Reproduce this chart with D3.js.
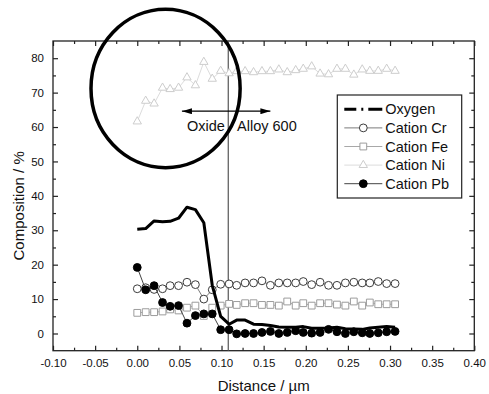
<!DOCTYPE html>
<html>
<head>
<meta charset="utf-8">
<script src="https://d3js.org/d3.v7.min.js"></script>
<style>
body { margin: 0; background: #fff; }
svg { display: block; font-family: "Liberation Sans", Arial, sans-serif; }
</style>
</head>
<body>
<svg width="489" height="394"></svg>
<script>
// расстояние, мкм
const distance = [0.000, 0.010, 0.020, 0.030, 0.039, 0.049, 0.059, 0.069, 0.079, 0.089, 0.099,
                  0.109, 0.118, 0.128, 0.138, 0.148, 0.158, 0.168, 0.178, 0.188, 0.197, 0.207,
                  0.217, 0.227, 0.237, 0.247, 0.257, 0.267, 0.276, 0.286, 0.296, 0.306];
const oxygen = [30.3, 30.5, 32.7, 32.5, 32.6, 33.5, 36.7, 36.0, 32.2, 14.0, 5.0,
                2.7, 3.9, 3.9, 2.7, 2.6, 2.3, 1.9, 1.8, 1.8, 2.0, 1.5,
                1.5, 1.6, 1.8, 1.4, 1.3, 1.2, 1.6, 1.8, 2.0, 1.8];
const cationCr = [13.0, 13.3, 12.8, 13.0, 13.9, 13.9, 14.9, 14.2, 10.0, 12.7, 14.3,
                  14.4, 14.0, 14.7, 14.7, 15.3, 14.0, 14.7, 14.7, 14.7, 15.1, 14.2,
                  14.9, 14.0, 14.0, 14.7, 14.9, 14.7, 14.7, 15.1, 14.5, 14.5];
const cationFe = [6.0, 6.2, 6.2, 6.4, 7.0, 6.7, 7.5, 8.1, 5.1, 7.5, 8.1,
                  8.6, 8.3, 8.8, 8.8, 8.3, 8.3, 8.1, 9.3, 8.1, 8.8, 8.1,
                  8.8, 8.8, 8.4, 8.1, 9.3, 8.1, 9.0, 8.5, 8.5, 8.5];
const cationNi = [61.6, 67.6, 66.8, 71.4, 71.0, 71.4, 74.4, 72.1, 78.9, 74.0, 76.3,
                  75.6, 76.2, 76.2, 75.9, 76.2, 76.2, 76.7, 75.9, 76.5, 76.9, 77.6,
                  75.5, 75.3, 76.9, 76.9, 75.2, 76.7, 76.3, 76.3, 76.9, 76.3];
const cationPb = [19.2, 12.7, 13.9, 9.0, 7.9, 8.1, 3.0, 5.2, 5.7, 5.7, 1.1,
                  1.1, -0.1, 0.0, 0.0, 0.3, 0.6, 0.0, 0.3, 0.8, 0.3, 0.1,
                  0.3, 1.2, 0.5, 0.0, 0.5, 0.2, 0.0, 0.2, 0.5, 0.6];

const xTicks = [-0.10, -0.05, 0.00, 0.05, 0.10, 0.15, 0.20, 0.25, 0.30, 0.35, 0.40];
const xMinor = [-0.075, -0.025, 0.025, 0.075, 0.125, 0.175, 0.225, 0.275, 0.325, 0.375];
const yTicks = [0, 10, 20, 30, 40, 50, 60, 70, 80];
const yMinor = [5, 15, 25, 35, 45, 55, 65, 75];

const legendNames = ["Oxygen", "Cation Cr", "Cation Fe", "Cation Ni", "Cation Pb"];
const boundaryX = 0.108;   // граница оксид / сплав

let svg = d3.select("svg");
const area = {left: 53, right: 474.3, top: 41, bottom: 350.7};

const scX = d3.scaleLinear().domain([-0.10, 0.40]).range([area.left, area.right]);
const scY = d3.scaleLinear().domain([-5, 85]).range([area.bottom, area.top]);

// оси: тики внутрь, на всех четырёх сторонах
function drawAxis(axis, tr) {
    let g = svg.append("g")
        .attr("transform", tr)
        .style("color", "#222")
        .call(axis);
    g.select(".domain").remove();
    g.selectAll("line").attr("stroke-width", 1.2);
    return g;
}
const fmt = d => d.toFixed(2);

drawAxis(d3.axisBottom(scX).tickValues(xTicks).tickSize(-5).tickPadding(8).tickFormat(fmt),
         `translate(0,${area.bottom})`)
    .selectAll("text").style("font-size", "11.5px").style("fill", "#111");
drawAxis(d3.axisBottom(scX).tickValues(xMinor).tickSize(-3).tickFormat(""), `translate(0,${area.bottom})`);
drawAxis(d3.axisTop(scX).tickValues(xTicks).tickSize(-5).tickFormat(""), `translate(0,${area.top})`);
drawAxis(d3.axisTop(scX).tickValues(xMinor).tickSize(-3).tickFormat(""), `translate(0,${area.top})`);

drawAxis(d3.axisLeft(scY).tickValues(yTicks).tickSize(-5).tickPadding(9).tickFormat(d => d),
         `translate(${area.left},0)`)
    .selectAll("text").style("font-size", "11.5px").style("fill", "#111");
drawAxis(d3.axisLeft(scY).tickValues(yMinor).tickSize(-3).tickFormat(""), `translate(${area.left},0)`);
drawAxis(d3.axisRight(scY).tickValues(yTicks).tickSize(-5).tickFormat(""), `translate(${area.right},0)`);
drawAxis(d3.axisRight(scY).tickValues(yMinor).tickSize(-3).tickFormat(""), `translate(${area.right},0)`);

svg.append("rect")
    .attr("x", area.left).attr("y", area.top)
    .attr("width", area.right - area.left).attr("height", area.bottom - area.top)
    .attr("fill", "none").attr("stroke", "#222").attr("stroke-width", 1.3);

// подписи осей
svg.append("text")
    .attr("x", scX(0.15)).attr("y", 390.5)
    .attr("text-anchor", "middle").style("font-size", "15px").style("fill", "#111")
    .text("Distance / µm");
svg.append("text")
    .attr("transform", `translate(23.5,${(area.top + area.bottom) / 2 + 10}) rotate(-90)`)
    .attr("text-anchor", "middle").style("font-size", "15px").style("fill", "#111")
    .text("Composition / %");

// вертикальная линия границы
svg.append("line")
    .attr("x1", scX(boundaryX)).attr("x2", scX(boundaryX))
    .attr("y1", area.top).attr("y2", area.bottom)
    .attr("stroke", "#555").attr("stroke-width", 1.2);

// серии
const series = [
    {name: "Cation Cr", values: cationCr, line: "#7a7a7a", marker: "circle", stroke: "#3c3c3c", fill: "#fff"},
    {name: "Cation Fe", values: cationFe, line: "#a8a8a8", marker: "square", stroke: "#9c9c9c", fill: "#fff"},
    {name: "Cation Ni", values: cationNi, line: "#dcdcdc", marker: "triangle", stroke: "#cdcdcd", fill: "#fff"},
    {name: "Cation Pb", values: cationPb, line: "#444", marker: "circle", stroke: "#000", fill: "#000"}
];
const symbols = {circle: d3.symbolCircle, square: d3.symbolSquare, triangle: d3.symbolTriangle};
const sizes = {circle: 48, square: 46, triangle: 30};

const line = d3.line().x(d => scX(d[0])).y(d => scY(d[1]));

series.forEach(s => {
    const pts = distance.map((x, i) => [x, s.values[i]]);
    svg.append("path").datum(pts)
        .attr("d", line).attr("fill", "none")
        .attr("stroke", s.line).attr("stroke-width", 1);
    svg.selectAll(null).data(pts).enter()
        .append("path")
        .attr("d", d3.symbol(symbols[s.marker], sizes[s.marker])())
        .attr("transform", d => `translate(${scX(d[0])},${scY(d[1])})`)
        .attr("fill", s.fill).attr("stroke", s.stroke).attr("stroke-width", 1);
});

svg.append("path")
    .datum(distance.map((x, i) => [x, oxygen[i]]))
    .attr("d", line).attr("fill", "none")
    .attr("stroke", "#000").attr("stroke-width", 3).attr("stroke-linejoin", "round");

// стрелка и подписи
const defs = svg.append("defs");
defs.append("marker").attr("id", "ah")
    .attr("viewBox", "0 0 10 6").attr("refX", 10).attr("refY", 3)
    .attr("markerWidth", 10).attr("markerHeight", 6).attr("markerUnits", "userSpaceOnUse")
    .attr("orient", "auto-start-reverse")
    .append("path").attr("d", "M0,0 L10,3 L0,6 Z").attr("fill", "#000");

svg.append("line")
    .attr("x1", scX(0.053)).attr("x2", scX(0.158))
    .attr("y1", scY(64.6)).attr("y2", scY(64.6))
    .attr("stroke", "#000").attr("stroke-width", 1.3)
    .attr("marker-start", "url(#ah)").attr("marker-end", "url(#ah)");

svg.append("text")
    .attr("x", scX(0.104)).attr("y", scY(58.8))
    .attr("text-anchor", "end").style("font-size", "14.5px").style("fill", "#111")
    .text("Oxide");
svg.append("text")
    .attr("x", scX(0.1185)).attr("y", scY(58.8))
    .style("font-size", "14.5px").style("fill", "#111")
    .text("Alloy 600");

// овал
svg.append("ellipse")
    .attr("cx", scX(0.0336)).attr("cy", scY(71.2))
    .attr("rx", scX(0.0336 + 0.0885) - scX(0.0336))
    .attr("ry", scY(71.2) - scY(71.2 + 23))
    .attr("fill", "none").attr("stroke", "#000").attr("stroke-width", 3.5);

// легенда
const leg = {x: 337.3, y: 95, w: 124.4, h: 103, row0: 14.3, step: 18.6};
svg.append("rect")
    .attr("x", leg.x).attr("y", leg.y).attr("width", leg.w).attr("height", leg.h)
    .attr("fill", "#fff").attr("stroke", "#222").attr("stroke-width", 1.2);

const legendItems = [
    {line: "#000", width: 3, dash: "12 5 2 5 14", marker: null},
    series[0], series[1], series[2], series[3]
];
legendItems.forEach((it, i) => {
    const y = leg.y + leg.row0 + i * leg.step;
    svg.append("line")
        .attr("x1", leg.x + 7).attr("x2", leg.x + 45).attr("y1", y).attr("y2", y)
        .attr("stroke", it.line).attr("stroke-width", it.width || 1)
        .attr("stroke-dasharray", it.dash || null);
    if (it.marker) {
        svg.append("path")
            .attr("d", d3.symbol(symbols[it.marker], sizes[it.marker])())
            .attr("transform", `translate(${leg.x + 26},${y})`)
            .attr("fill", it.fill).attr("stroke", it.stroke).attr("stroke-width", 1);
    }
    svg.append("text")
        .attr("x", leg.x + 48).attr("y", y + 5)
        .style("font-size", "14.5px").style("fill", "#111")
        .text(legendNames[i]);
});
</script>
</body>
</html>
